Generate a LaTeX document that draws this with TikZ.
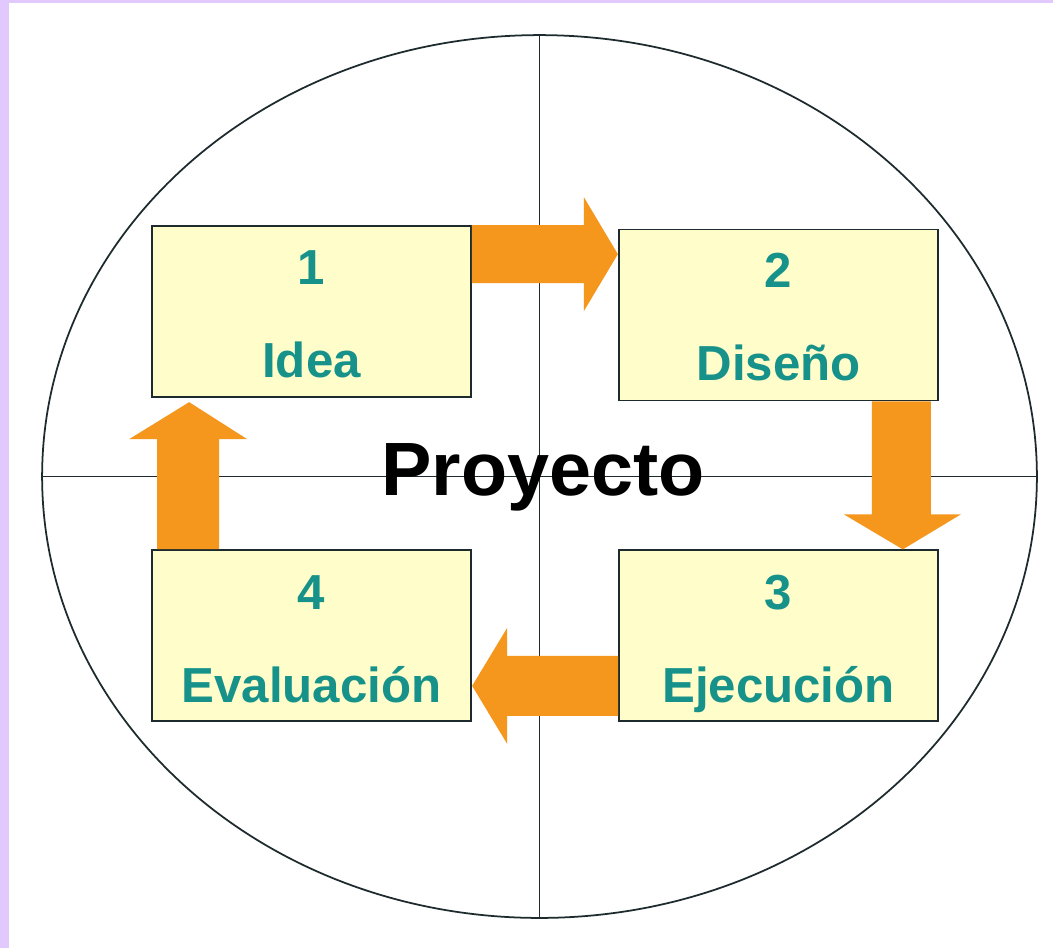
\documentclass[tikz,border=0pt]{standalone}
\usepackage{fontspec}
\setmainfont{Liberation Sans}
\usetikzlibrary{calc, positioning, shapes.geometric}

\definecolor{lila}{HTML}{E2C9FD}
\definecolor{crema}{HTML}{FFFDC9}
\definecolor{naranja}{HTML}{F5961D}
\definecolor{verde}{HTML}{17928A}
\definecolor{linea}{HTML}{1E2B2E}

\tikzset{
  etapa/.style={draw=linea, line width=1pt, fill=crema, rectangle, inner sep=0pt,
    minimum width=6.38cm, minimum height=3.42cm},
  rotulo/.style={anchor=base, text=verde, font=\bfseries\fontsize{28}{32}\selectfont},
  flecha/.style={fill=naranja},
}

\begin{document}
\begin{tikzpicture}[x=0.02cm, y=-0.02cm]
        % Fondo
        \useasboundingbox (0,0) rectangle (1053,948);
        \fill[lila] (0,0) rectangle (1053,948);
        \fill[white] (9,3) rectangle (1053,948);

        % Circulo y ejes
        \node[ellipse, draw=linea, line width=1pt, inner sep=0pt,
              minimum width=19.9cm, minimum height=17.66cm] (ciclo) at (539.5,476.5) {};
        \draw[linea, line width=1pt] (ciclo.west) -- (ciclo.east);
        \draw[linea, line width=1pt] (ciclo.north) -- (ciclo.south);

        % Etapas
        \node[etapa] (b1) at (311.5,311.5) {};
        \node[etapa] (b2) at (778.5,315) {};
        \node[etapa] (b3) at (778.5,635.5) {};
        \node[etapa] (b4) at (311.5,635.5) {};

        % Flechas
        \fill[flecha] (b1.north east) -- ++(112,0) -- ++(0,-28) -- ++(34,57)
            -- ++(-34,57) -- ++(0,-28) -- ++(-112,0) -- cycle;
        \fill[flecha] ($(b2.south east)+(-8,0)$) -- ++(0,113) -- ++(30,0) -- ++(-58,35)
            -- ++(-59,-35) -- ++(28,0) -- ++(0,-113) -- cycle;
        \fill[flecha] ($(b3.south west)+(0,-6)$) -- ++(-111,0) -- ++(0,28) -- ++(-35,-58)
            -- ++(35,-58) -- ++(0,28) -- ++(111,0) -- cycle;
        \fill[flecha] ($(b4.north west)+(6,0)$) -- ++(0,-110) -- ++(-28,0) -- ++(60,-37)
            -- ++(58,37) -- ++(-28,0) -- ++(0,110) -- cycle;

        % Textos
        \node[rotulo] (n1) at ($(b1.north)+(0,59)$) {1};
        \node[rotulo] (t1) at ($(b1.north)+(0,152)$) {Idea};
        \node[rotulo] (n2) at ($(b2.north)+(0,59)$) {2};
        \node[rotulo] (t2) at ($(b2.north)+(0,152)$) {Diseño};
        \node[rotulo] (n3) at ($(b3.north)+(0,60)$) {3};
        \node[rotulo] (t3) at ($(b3.north)+(0,153)$) {Ejecución};
        \node[rotulo] (n4) at ($(b4.north)+(0,60)$) {4};
        \node[rotulo] (t4) at ($(b4.north)+(0,153)$) {Evaluación};

        \node[anchor=base, font=\bfseries\fontsize{43}{48}\selectfont] (titulo) at (543,495) {Proyecto};
    \end{tikzpicture}
\end{document}
